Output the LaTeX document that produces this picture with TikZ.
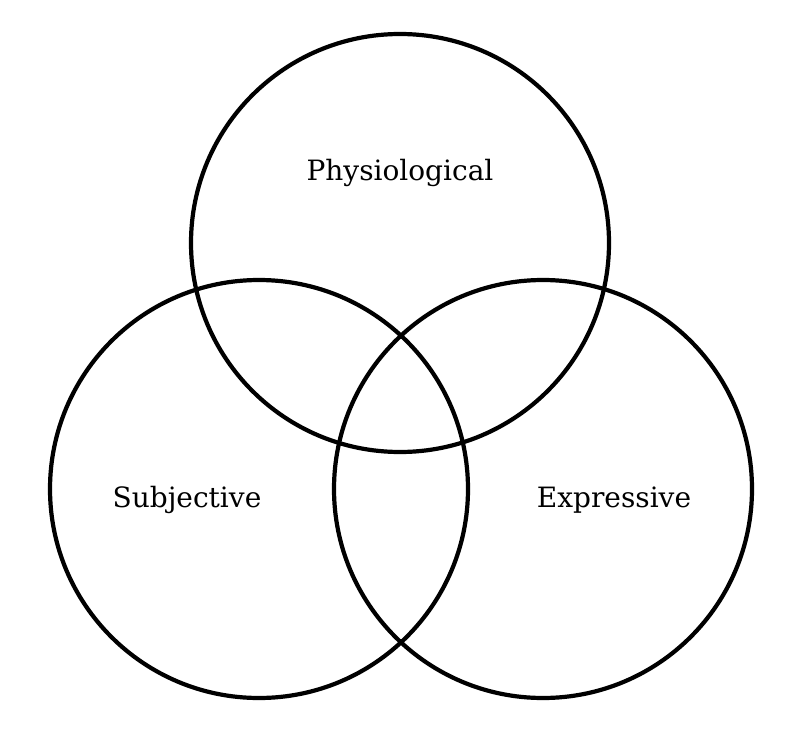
\documentclass[tikz,border=0pt]{standalone}
\usepackage{fontspec}
\setmainfont{DejaVu Serif}
\begin{document}
\begin{tikzpicture}[x=1pt,y=-1pt,
  ring/.style={draw=black,line width=4.2pt},
  lbl/.style={font=\fontsize{28}{33}\selectfont,inner sep=0pt}]
\useasboundingbox (0,0) rectangle (800,738);
\draw[ring] (400,243) circle[radius=209];
\draw[ring] (259,489) circle[radius=209];
\draw[ring] (543,489) circle[radius=209];
\node[lbl] (phys) at (400,173) {Physiological};
\node[lbl] (subj) at (187,500) {Subjective};
\node[lbl] (expr) at (614,500) {Expressive};
\end{tikzpicture}
\end{document}
